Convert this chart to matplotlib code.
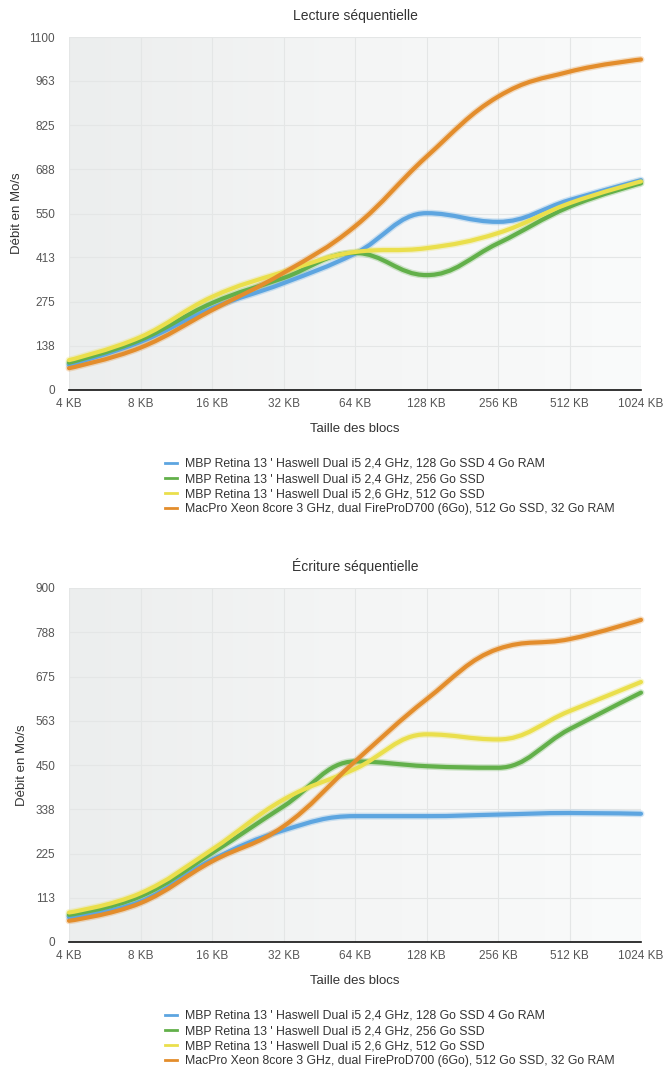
import numpy as np
import matplotlib
matplotlib.use("Agg")
import matplotlib.pyplot as plt
from matplotlib.path import Path
from matplotlib.patches import PathPatch
from matplotlib.lines import Line2D
from matplotlib.colors import LinearSegmentedColormap

plt.rcParams['font.family'] = ['Liberation Sans', 'DejaVu Sans']

categories = ["4 KB", "8 KB", "16 KB", "32 KB", "64 KB", "128 KB", "256 KB", "512 KB", "1024 KB"]
series_names = [
    "MBP Retina 13 ' Haswell Dual i5 2,4 GHz, 128 Go SSD 4 Go RAM",
    "MBP Retina 13 ' Haswell Dual i5 2,4 GHz, 256 Go SSD",
    "MBP Retina 13 ' Haswell Dual i5 2,6 GHz, 512 Go SSD",
    "MacPro Xeon 8core 3 GHz, dual FireProD700 (6Go), 512 Go SSD, 32 Go RAM",
]
colors = ["#5DA5E0", "#62B04A", "#EADF4C", "#E38D2C"]

# Lecture séquentielle
read_blue = [78, 150, 255, 333, 425, 551, 524, 592, 654]
read_green = [85, 156, 271, 349, 427, 358, 457, 571, 644]
read_yellow = [93, 165, 290, 368, 430, 442, 489, 582, 650]
read_orange = [68, 132, 249, 365, 510, 727, 914, 992, 1030]
read_ticks = [0, 138, 275, 413, 550, 688, 825, 963, 1100]

# Écriture séquentielle
write_blue = [63, 103, 209, 284, 320, 320, 324, 328, 326]
write_green = [69, 116, 226, 345, 459, 447, 443, 541, 634]
write_yellow = [75, 124, 235, 362, 440, 528, 515, 587, 661]
write_orange = [54, 99, 205, 294, 459, 617, 745, 770, 819]
write_ticks = [0, 113, 225, 338, 450, 563, 675, 788, 900]


def spline_path(xs, ys, smoothing=1.5):
    """Highcharts-style spline as cubic Bezier path through the data points."""
    n = len(xs)
    denom = smoothing + 1
    left = [None] * n
    right = [None] * n
    for i in range(n):
        x, y = xs[i], ys[i]
        if i == 0 or i == n - 1:
            left[i] = (x, y)
            right[i] = (x, y)
            continue
        lx, ly = xs[i - 1], ys[i - 1]
        nx, ny = xs[i + 1], ys[i + 1]
        lcx = (smoothing * x + lx) / denom
        lcy = (smoothing * y + ly) / denom
        rcx = (smoothing * x + nx) / denom
        rcy = (smoothing * y + ny) / denom
        corr = ((rcy - lcy) * (rcx - x)) / (rcx - lcx) + y - rcy
        lcy += corr
        rcy += corr
        if lcy > ly and lcy > y:
            lcy = max(ly, y); rcy = 2 * y - lcy
        elif lcy < ly and lcy < y:
            lcy = min(ly, y); rcy = 2 * y - lcy
        if rcy > ny and rcy > y:
            rcy = max(ny, y); lcy = 2 * y - rcy
        elif rcy < ny and rcy < y:
            rcy = min(ny, y); lcy = 2 * y - rcy
        left[i] = (lcx, lcy)
        right[i] = (rcx, rcy)
    verts = [(xs[0], ys[0])]
    codes = [Path.MOVETO]
    for i in range(1, n):
        verts += [right[i - 1], left[i], (xs[i], ys[i])]
        codes += [Path.CURVE4] * 3
    return Path(verts, codes)


fig = plt.figure(figsize=(6.66, 10.77), dpi=100)
W, H = 666, 1077

text_color = "#333333"
tick_color = "#555555"


def make_chart(top_px, bottom_px, title, data, ticks, legend_top_px):
    ax = fig.add_axes([69 / W, 1 - bottom_px / H, (641 - 69) / W, (bottom_px - top_px) / H])
    x = np.arange(len(categories))
    ymax = ticks[-1]
    ax.set_xlim(0, len(categories) - 1)
    ax.set_ylim(0, ymax)
    grad = np.linspace(0, 1, 256).reshape(1, -1)
    cmap = LinearSegmentedColormap.from_list("bg", ["#eceeee", "#f4f5f5", "#fafbfb"])
    ax.imshow(grad, extent=[0, 1, 0, 1], transform=ax.transAxes, aspect='auto',
              cmap=cmap, zorder=0)
    ax.set_yticks(ticks)
    ax.set_xticks(x)
    ax.set_xticklabels(categories)
    ax.grid(True, color="#e4e6e6", linewidth=0.8, zorder=1)
    ax.set_axisbelow(True)
    for s in ["top", "right", "left"]:
        ax.spines[s].set_visible(False)
    ax.spines["bottom"].set_color("#111111")
    ax.spines["bottom"].set_linewidth(1.2)
    ax.spines["bottom"].set_zorder(5)
    ax.tick_params(axis="both", length=0, labelsize=8.5, colors=tick_color)
    ax.tick_params(axis="y", pad=10)
    ax.tick_params(axis="x", pad=6)
    ax.set_title(title, fontsize=10, color=text_color, pad=12)
    ax.set_xlabel("Taille des blocs", fontsize=9.5, color=text_color, labelpad=9)
    ax.set_ylabel("Débit en Mo/s", fontsize=9.5, color=text_color, labelpad=5)
    for ys, c in zip(data, colors):
        p = spline_path(x, ys)
        ax.add_patch(PathPatch(p, fill=False, edgecolor=c, lw=5.0, alpha=0.28,
                               zorder=3, capstyle='round', clip_on=False))
        ax.add_patch(PathPatch(p, fill=False, edgecolor=c, lw=3.0, zorder=4,
                               capstyle='round', joinstyle='round', clip_on=False))
    handles = [Line2D([0], [0], color=c, lw=2) for c in colors]
    fig.legend(handles, series_names, loc="upper left",
               bbox_to_anchor=(165 / W, 1 - legend_top_px / H), frameon=False,
               fontsize=8.8, handlelength=1.0, handletextpad=0.65,
               labelspacing=0.25, borderaxespad=0, borderpad=0,
               labelcolor=text_color)
    return ax


make_chart(37, 390, "Lecture séquentielle",
           [read_blue, read_green, read_yellow, read_orange], read_ticks, 458)
make_chart(588, 942, "Écriture séquentielle",
           [write_blue, write_green, write_yellow, write_orange], write_ticks, 1010)

fig.savefig("out.png", dpi=100)
